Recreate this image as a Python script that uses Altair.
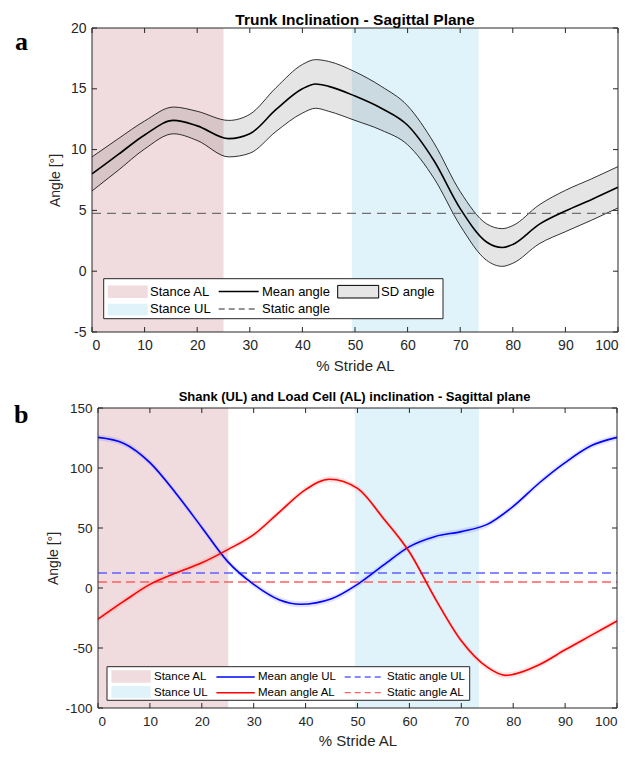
import altair as alt
import pandas as pd

# ---------------- Panel a: Trunk inclination ----------------
top_x = [0, 5, 10, 15.5, 20, 26, 30, 35, 40, 42.5, 45, 50, 55, 60, 65, 70, 75, 78, 80, 85, 90, 95, 100]
top_mean = [8.0, 9.6, 11.2, 12.4, 11.95, 10.9, 11.3, 13.3, 15.0, 15.4, 15.2, 14.4, 13.4, 12.0, 9.1, 5.15, 2.4, 1.95, 2.2, 3.85, 4.95, 5.9, 6.9]
top_sd = [1.4, 1.3, 1.15, 1.1, 1.2, 1.5, 1.6, 1.8, 2.0, 2.0, 2.05, 2.0, 1.8, 1.6, 1.45, 1.4, 1.5, 1.55, 1.55, 1.6, 1.7, 1.7, 1.7]
top_static = 4.75

# ---------------- Panel b: Shank (UL) and Load cell (AL) ----------------
ul_x = [0, 5, 10, 15, 20, 25, 30, 35, 39, 45, 50, 55, 60, 65, 70, 75, 80, 85, 90, 95, 100]
ul_mean = [125.5, 120.5, 104.5, 79, 50.5, 22, 3, -10, -13.6, -9, 3, 19, 34.5, 43, 47, 53, 68, 87.5, 104.5, 118.5, 125.5]
ul_sd = [2.5] * len(ul_x)
al_x = [0, 5, 10, 15, 20, 25, 30, 35, 40, 44.6, 50, 55, 60, 65, 70, 75, 78.5, 80, 85, 90, 95, 100]
al_mean = [-26, -11, 3, 12.5, 21, 32, 44.5, 63.5, 82, 90.6, 83, 58, 30, -9, -44, -66, -72.8, -72, -64, -51.5, -39.5, -27.5]
al_sd = [2.5] * len(al_x)
ul_static = 12.5
al_static = 5.0

stance_names = ["Stance AL", "Stance UL"]
stance_a_start = [0, 49.4]
stance_a_end = [25, 73.5]
stance_b_start = [0, 49.5]
stance_b_end = [25.1, 73.4]

x_ticks = [0, 10, 20, 30, 40, 50, 60, 70, 80, 90, 100]
top_y_ticks = [-5, 0, 5, 10, 15, 20]
bot_y_ticks = [-100, -50, 0, 50, 100, 150]

PINK = "#F0DCDF"
LBLUE = "#E1F3FA"
AXC = "#262626"
FONT = "Liberation Sans"
dummy = pd.DataFrame({"d": [0]})


def lg_rect(x1, x2, y1, y2, fill, stroke=None, sw=1):
    kw = dict(fill=fill)
    if stroke:
        kw.update(stroke=stroke, strokeWidth=sw)
    return alt.Chart(dummy).mark_rect(**kw).encode(
        x=alt.value(x1), x2=alt.value(x2), y=alt.value(y1), y2=alt.value(y2))


def lg_line(x1, x2, y, color, dash=None, sw=1.5):
    kw = dict(color=color, strokeWidth=sw)
    if dash:
        kw.update(strokeDash=dash)
    return alt.Chart(dummy).mark_rule(**kw).encode(
        x=alt.value(x1), x2=alt.value(x2), y=alt.value(y))


def lg_text(x, y, text, size):
    return alt.Chart(dummy).mark_text(text=text, align="left", baseline="middle",
                                      fontSize=size, font=FONT, color="black").encode(
        x=alt.value(x), y=alt.value(y))


def panel(xs, ys, W, H, xax, yax, yvals, x0, stance_start, stance_end, series, statics, legend,
          letter, letter_pos, title, title_size, title_offset):
    X = lambda f: alt.X(f"{f}:Q", scale=xs, axis=xax)
    Y = lambda f: alt.Y(f"{f}:Q", scale=ys, axis=yax)
    layers = []
    st = pd.DataFrame({"name": stance_names, "start": stance_start, "end": stance_end})
    layers.append(alt.Chart(st).mark_rect().encode(
        x=X("start"), x2="end:Q", y=alt.value(0), y2=alt.value(H),
        color=alt.Color("name:N", scale=alt.Scale(domain=stance_names, range=[PINK, LBLUE]), legend=None)))
    for s in series:
        df = pd.DataFrame({"x": s["x"], "m": s["mean"], "sd": s["sd"]})
        df["lo"] = df["m"] - df["sd"]
        df["hi"] = df["m"] + df["sd"]
        layers.append(alt.Chart(df).mark_area(color=s["band"], opacity=s["bandop"], interpolate="monotone").encode(
            x=X("x"), y=Y("lo"), y2="hi:Q"))
        if s.get("edges"):
            for f in ["lo", "hi"]:
                layers.append(alt.Chart(df).mark_line(color="black", strokeWidth=0.8, interpolate="monotone").encode(
                    x=X("x"), y=Y(f)))
    for val, col, dash in statics:
        layers.append(alt.Chart(pd.DataFrame({"y": [val]})).mark_rule(color=col, strokeDash=dash, strokeWidth=1.3).encode(
            y=Y("y"), x=alt.value(x0), x2=alt.value(W)))
    for s in series:
        df = pd.DataFrame({"x": s["x"], "m": s["mean"]})
        layers.append(alt.Chart(df).mark_line(color=s["color"], strokeWidth=1.6, interpolate="monotone").encode(
            x=X("x"), y=Y("m")))
    # inward ticks
    xt = pd.DataFrame({"x": x_ticks})
    layers.append(alt.Chart(xt).mark_rule(color=AXC).encode(x=X("x"), y=alt.value(H), y2=alt.value(H - 5)))
    layers.append(alt.Chart(xt).mark_rule(color=AXC).encode(x=X("x"), y=alt.value(0), y2=alt.value(5)))
    yt = pd.DataFrame({"y": yvals})
    layers.append(alt.Chart(yt).mark_rule(color=AXC).encode(y=Y("y"), x=alt.value(x0), x2=alt.value(x0 + 5)))
    layers.append(alt.Chart(yt).mark_rule(color=AXC).encode(y=Y("y"), x=alt.value(W), x2=alt.value(W - 5)))
    # box
    layers.append(alt.Chart(dummy).mark_rect(fillOpacity=0, stroke=AXC, strokeWidth=1).encode(
        x=alt.value(x0), x2=alt.value(W), y=alt.value(0), y2=alt.value(H)))
    layers += legend
    layers.append(alt.Chart(dummy).mark_text(text=letter, align="left", baseline="alphabetic", fontSize=26,
                                             font="Liberation Serif", fontWeight="bold", color="black").encode(
        x=alt.value(letter_pos[0]), y=alt.value(letter_pos[1])))
    return alt.layer(*layers).properties(
        width=W, height=H,
        title=alt.TitleParams(title, fontSize=title_size, fontWeight="bold", anchor="middle",
                              offset=title_offset, color="black", font=FONT))


LABEL_EXPR = "datum.value + ''"

# ---- top panel ----
W1, H1 = 526, 304
xs1 = alt.Scale(domain=[0, 100], nice=False, zero=False)
ys1 = alt.Scale(domain=[-5, 20], nice=False, zero=False)
xax1 = alt.Axis(values=x_ticks, title="% Stride AL", tickSize=0, domain=False, grid=False,
                labelFontSize=14, titleFontSize=15, labelPadding=6, titlePadding=6, labelExpr=LABEL_EXPR,
                labelColor=AXC, titleColor=AXC, titleFontWeight="normal", labelFont=FONT, titleFont=FONT)
yax1 = alt.Axis(values=top_y_ticks, title="Angle [°]", tickSize=0, domain=False, grid=False,
                labelFontSize=14, titleFontSize=14, labelPadding=6, titlePadding=8, labelExpr=LABEL_EXPR,
                labelColor=AXC, titleColor=AXC, titleFontWeight="normal", labelFont=FONT, titleFont=FONT)

legend1 = [
    lg_rect(11.7, 351, 250.7, 290.7, "white", AXC, 1),
    lg_rect(15.7, 55.7, 257.4, 270, PINK),
    lg_rect(15.7, 55.7, 275.7, 287.4, LBLUE),
    lg_text(58, 263.5, "Stance AL", 13),
    lg_text(58, 281, "Stance UL", 13),
    lg_line(126.7, 166.7, 263.5, "black", None, 1.5),
    lg_line(126.7, 166.7, 281, "#707070", [6, 4], 1.3),
    lg_text(170, 263.5, "Mean angle", 13),
    lg_text(170, 281, "Static angle", 13),
    lg_rect(245.7, 286.7, 257.4, 270, "#E6E6E6", "black", 1),
    lg_text(289, 263.5, "SD angle", 13),
]

top = panel(xs1, ys1, W1, H1, xax1, yax1, top_y_ticks, 0, stance_a_start, stance_a_end,
            [dict(x=top_x, mean=top_mean, sd=top_sd, color="black", band="black", bandop=0.1, edges=True)],
            [(top_static, "#707070", [9, 6])], legend1, "a", (-77, 22),
            "Trunk Inclination - Sagittal Plane", 15.5, -7.5)

# ---- bottom panel ----
OFF = 6
W2, H2 = 525, 300
xs2 = alt.Scale(domain=[0, 100], nice=False, zero=False, range=[OFF, W2])
ys2 = alt.Scale(domain=[-100, 150], nice=False, zero=False)
xax2 = alt.Axis(values=x_ticks, title="% Stride AL", tickSize=0, domain=False, grid=False,
                labelFontSize=13.5, titleFontSize=15, labelPadding=6, titlePadding=6, labelExpr=LABEL_EXPR,
                labelColor=AXC, titleColor=AXC, titleFontWeight="normal", labelFont=FONT, titleFont=FONT)
yax2 = alt.Axis(values=bot_y_ticks, title="Angle [°]", tickSize=0, domain=False, grid=False, offset=-OFF,
                labelFontSize=13.5, titleFontSize=14, labelPadding=6, titlePadding=4, labelExpr=LABEL_EXPR,
                labelColor=AXC, titleColor=AXC, titleFontWeight="normal", labelFont=FONT, titleFont=FONT)

legend2 = [
    lg_rect(OFF + 9, OFF + 371.7, 258.7, 292.3, "white", AXC, 1),
    lg_rect(OFF + 13.4, OFF + 52.7, 262.3, 274.7, PINK),
    lg_rect(OFF + 13.4, OFF + 52.7, 278, 290, LBLUE),
    lg_text(OFF + 56, 269, "Stance AL", 11.5),
    lg_text(OFF + 56, 284.7, "Stance UL", 11.5),
    lg_line(OFF + 118.4, OFF + 156.7, 269, "#0000FF", None, 1.5),
    lg_line(OFF + 118.4, OFF + 156.7, 284.7, "#FF0000", None, 1.5),
    lg_text(OFF + 160, 269, "Mean angle UL", 11.5),
    lg_text(OFF + 160, 284.7, "Mean angle AL", 11.5),
    lg_line(OFF + 246.7, OFF + 286.7, 269, "#6060FF", [6, 4], 1.3),
    lg_line(OFF + 246.7, OFF + 286.7, 284.7, "#FF6060", [6, 4], 1.3),
    lg_text(OFF + 289, 269, "Static angle UL", 11.5),
    lg_text(OFF + 289, 284.7, "Static angle AL", 11.5),
]

bot = panel(xs2, ys2, W2, H2, xax2, yax2, bot_y_ticks, OFF, stance_b_start, stance_b_end,
            [dict(x=ul_x, mean=ul_mean, sd=ul_sd, color="#0000FF", band="#4040FF", bandop=0.15),
             dict(x=al_x, mean=al_mean, sd=al_sd, color="#FF0000", band="#FF4040", bandop=0.15)],
            [(ul_static, "#6060FF", [9, 5]), (al_static, "#FF6060", [9, 5])], legend2, "b", (-78, 15),
            "Shank (UL) and Load Cell (AL) inclination - Sagittal plane", 13, -3)

chart = alt.vconcat(top, bot, spacing=18).configure(
    font=FONT, padding={"left": 6, "top": 5, "right": 5, "bottom": 5}
).configure_view(stroke=None)

chart.save("out.html", embed_options={"renderer": "svg", "actions": False})
